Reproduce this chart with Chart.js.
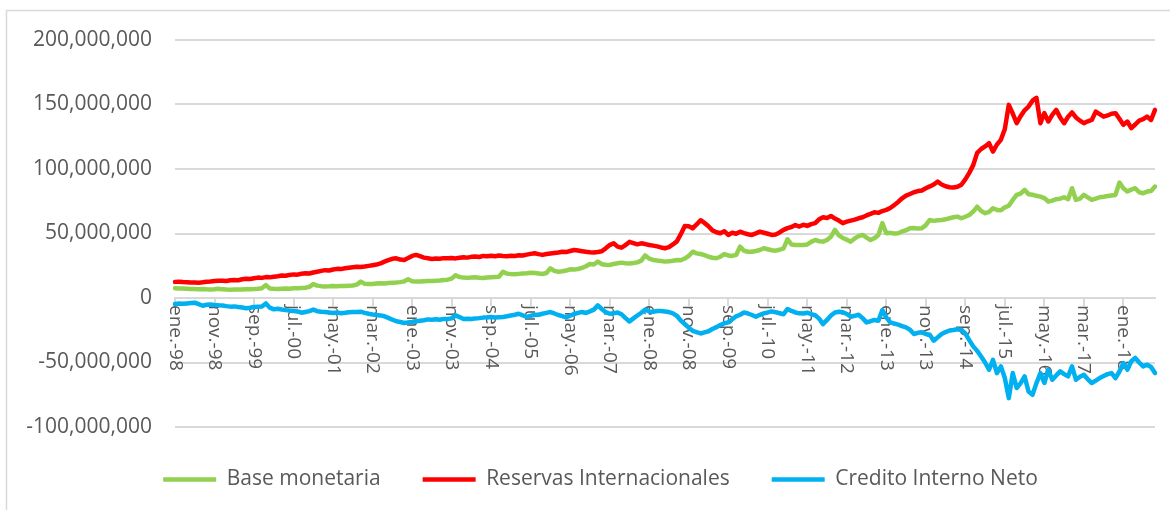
<!DOCTYPE html>
<html>
<head>
<meta charset="utf-8">
<script src="https://cdn.jsdelivr.net/npm/chart.js@4.4.1/dist/chart.umd.min.js"></script>
<style>
  body { margin: 0; background: #fff; }
  #wrap { width: 1170px; height: 510px; }
</style>
</head>
<body>
<div id="wrap"><canvas id="myChart" width="1170" height="510"></canvas></div>
<script>
'use strict';

// ===== data (millones) =====
var months = ['ene.', 'feb.', 'mar.', 'abr.', 'may.', 'jun.', 'jul.', 'ago.', 'sep.', 'oct.', 'nov.', 'dic.'];
var years = ['98', '99', '00', '01', '02', '03', '04', '05', '06', '07', '08', '09', '10', '11', '12', '13', '14', '15', '16', '17', '18'];
var lastMonth = 'sep.-18';

var tickLabels = ['ene.-98', 'nov.-98', 'sep.-99', 'jul.-00', 'may.-01', 'mar.-02', 'ene.-03', 'nov.-03', 'sep.-04',
    'jul.-05', 'may.-06', 'mar.-07', 'ene.-08', 'nov.-08', 'sep.-09', 'jul.-10', 'may.-11', 'mar.-12', 'ene.-13',
    'nov.-13', 'sep.-14', 'jul.-15', 'may.-16', 'mar.-17', 'ene.-18'];

var baseMonetaria = [
    7.6, 7.4, 7.3, 7.2, 7.0, 6.9, 6.8, 6.9, 6.7, 6.6, 6.8, 7.2,
    6.7, 6.5, 6.4, 6.5, 6.6, 6.5, 6.7, 6.8, 6.9, 7.1, 7.6, 10.0,
    7.4, 7.1, 7.0, 7.2, 7.3, 7.2, 7.5, 7.6, 7.8, 8.0, 8.6, 10.8,
    9.6, 9.2, 9.0, 9.1, 9.3, 9.2, 9.4, 9.3, 9.5, 9.7, 10.4, 12.7,
    11.0, 10.8, 10.9, 11.2, 11.4, 11.2, 11.6, 11.8, 12.0, 12.3, 12.9, 14.5,
    13.0, 12.7, 12.8, 13.0, 13.2, 13.1, 13.4, 13.6, 13.9, 14.2, 15.0, 17.6,
    16.2, 15.8, 15.6, 15.8, 16.0, 15.7, 15.5, 15.9, 16.1, 16.3, 16.5, 20.4,
    18.9, 18.6, 18.4, 18.7, 19.0, 19.2, 19.6, 19.3, 19.0, 18.6, 19.4, 23.0,
    21.0, 20.4, 20.7, 21.3, 22.2, 22.0, 22.5, 23.4, 24.6, 26.4, 26.0, 28.2,
    26.2, 25.8, 25.6, 26.4, 26.9, 27.4, 26.9, 26.7, 27.1, 27.6, 29.0, 33.0,
    30.6, 29.5, 29.0, 28.6, 28.2, 28.4, 28.9, 29.5, 29.3, 30.6, 32.6, 35.9,
    34.6, 34.1, 33.2, 32.0, 31.2, 30.8, 32.0, 34.1, 33.0, 32.6, 33.4, 39.8,
    36.6, 35.9, 35.8, 36.4, 37.2, 38.6, 37.8, 37.0, 36.7, 37.4, 38.5, 45.5,
    41.5, 41.1, 41.0, 41.1, 41.5, 43.5, 45.0, 44.0, 43.7, 45.0, 47.5, 52.8,
    48.6, 46.5, 45.2, 43.7, 46.2, 48.0, 48.9, 46.8, 45.0, 46.4, 48.9, 58.0,
    50.2, 50.5, 50.0, 50.2, 51.6, 52.5, 54.1, 54.3, 53.8, 54.1, 56.5, 60.5,
    59.8, 60.2, 60.5, 61.0, 61.8, 62.6, 63.1, 61.8, 63.0, 64.4, 67.0, 70.8,
    67.5, 65.7, 66.8, 69.6, 68.3, 68.0, 70.2, 71.5, 76.0, 79.9, 81.0, 83.8,
    80.5, 80.0, 79.2, 78.6, 77.5, 74.7, 75.5, 76.6, 77.0, 78.1, 76.6, 85.1,
    76.0, 77.0, 79.9, 78.0, 76.0, 77.0, 78.1, 78.5, 79.0, 79.5, 79.9, 89.5,
    85.0, 82.5, 84.0, 85.1, 82.0, 81.2, 82.5, 83.0, 86.4
];

var reservas = [
    12.5, 12.6, 12.4, 12.3, 12.1, 12.0, 11.9, 12.2, 12.6, 12.8, 13.1, 13.4,
    13.4, 13.2, 13.7, 14.0, 13.8, 14.5, 14.9, 14.7, 15.3, 15.8, 15.6, 16.2,
    16.0, 16.5, 16.9, 17.4, 17.2, 17.9, 18.3, 18.1, 18.8, 19.2, 19.0, 19.8,
    20.4, 21.0, 21.6, 21.3, 22.1, 22.6, 22.4, 23.0, 23.5, 23.9, 24.3, 24.0,
    24.4, 24.9, 25.4, 25.9, 26.8, 28.2, 29.3, 30.4, 30.8, 29.8, 29.5, 31.0,
    32.6, 33.4, 32.4, 31.3, 30.8, 30.3, 30.6, 30.4, 30.9, 30.8, 31.0, 30.7,
    31.2, 31.6, 31.3, 31.9, 32.2, 31.8, 32.6, 32.3, 32.7, 32.4, 33.0, 32.6,
    32.4, 32.8, 32.6, 33.2, 32.9, 33.6, 34.2, 34.7, 34.0, 33.4, 34.1, 34.5,
    34.9, 35.3, 35.9, 35.6, 36.4, 37.2, 36.8, 36.3, 35.8, 35.4, 35.2, 35.6,
    36.2, 38.5, 41.0, 42.4, 39.8, 39.0, 41.0, 43.5, 42.6, 41.6, 42.4, 41.8,
    41.1, 40.6, 40.0, 39.2, 38.6, 39.4, 41.5, 43.9, 49.5, 55.8, 55.6, 54.0,
    57.0, 60.3, 58.2, 55.6, 52.4, 51.0, 50.2, 51.8, 48.9, 50.6, 49.8, 51.4,
    50.3, 49.4, 48.9, 50.1, 51.4, 50.6, 49.8, 48.9, 49.3, 50.8, 52.8, 54.2,
    55.0, 56.6, 55.4, 56.8, 55.9, 57.3, 58.0, 61.0, 62.6, 62.0, 63.6, 61.6,
    60.0, 58.0, 59.2, 60.0, 60.8, 61.8, 62.6, 64.0, 65.2, 66.5, 66.0, 67.4,
    68.3, 69.8, 72.0, 74.5, 77.3, 79.4, 80.6, 82.0, 82.9, 83.4, 85.1, 86.5,
    88.0, 90.2, 88.0, 86.6, 85.9, 85.6, 86.2, 87.8, 92.0, 97.0, 103.0, 112.5,
    115.5, 117.5, 120.0, 113.5, 119.0, 122.6, 131.0, 149.7, 143.0, 135.5, 141.0, 145.5,
    148.4, 153.0, 155.2, 135.5, 143.3, 136.8, 142.0, 145.8, 140.0, 135.5, 140.5, 143.8,
    140.0, 137.5, 135.5, 137.0, 138.0, 144.5, 142.5, 140.6, 141.5, 142.8, 143.3, 139.0,
    134.2, 136.8, 131.7, 134.5, 137.5, 138.6, 140.6, 138.0, 145.8
];

var creditoInterno = [
    -4.6, -4.3, -4.5, -4.2, -3.9, -3.6, -4.8, -6.0, -5.2, -5.0, -5.4, -5.7,
    -5.8, -6.3, -6.7, -6.5, -7.0, -7.4, -8.0, -7.6, -7.0, -6.8, -6.6, -4.2,
    -7.5, -8.8, -8.3, -8.9, -9.4, -9.8, -10.1, -10.4, -11.4, -10.8, -10.2, -9.0,
    -10.2, -10.6, -10.9, -11.2, -11.6, -11.3, -11.8, -11.5, -11.0, -10.8, -10.9, -10.6,
    -11.5, -12.2, -12.8, -13.1, -13.5, -14.2, -15.4, -16.8, -18.0, -18.6, -19.4, -18.9,
    -18.6, -18.0, -17.6, -17.2, -16.6, -16.8, -16.5, -16.9, -16.2, -16.3, -15.8, -13.5,
    -14.8, -16.3, -16.0, -16.3, -15.8, -15.6, -15.2, -15.0, -14.7, -15.1, -14.9, -14.7,
    -14.2, -13.6, -13.0, -12.2, -13.4, -14.7, -13.8, -13.0, -13.0, -12.2, -11.5, -10.9,
    -12.0, -13.2, -14.0, -15.0, -13.6, -12.4, -11.5, -10.9, -11.6, -10.4, -9.0, -5.7,
    -8.5, -11.0, -12.2, -11.8, -11.3, -12.6, -15.6, -18.2, -15.8, -13.6, -11.4, -9.0,
    -10.4, -10.6, -10.1, -10.0, -10.4, -10.9, -11.9, -13.8, -17.5, -20.2, -23.0, -25.4,
    -26.5, -27.5, -26.6, -25.8, -24.0, -22.6, -21.0, -19.6, -18.9, -16.5, -14.2, -13.0,
    -11.2, -12.0, -13.2, -14.5, -13.0, -11.9, -11.2, -10.4, -11.0, -11.8, -12.6, -8.5,
    -10.0, -11.2, -11.9, -12.0, -11.4, -12.6, -13.4, -16.0, -20.2, -17.0, -13.6, -11.2,
    -10.6, -11.0, -12.4, -14.5, -13.8, -13.0, -15.6, -18.9, -18.0, -17.0, -17.6, -9.3,
    -15.0, -18.9, -19.8, -20.6, -21.8, -22.8, -24.6, -27.9, -27.0, -26.5, -27.9, -28.5,
    -33.1, -30.5, -27.9, -26.4, -25.2, -24.8, -24.2, -24.8, -27.5, -32.6, -37.5, -41.0,
    -45.3, -50.0, -55.6, -47.9, -58.2, -53.0, -62.0, -77.6, -58.2, -69.8, -66.0, -60.8,
    -72.5, -75.0, -66.0, -58.2, -65.9, -55.6, -63.4, -60.0, -56.9, -59.0, -60.8, -53.0,
    -63.4, -61.0, -59.5, -63.0, -65.9, -64.0, -62.1, -60.5, -59.0, -58.2, -62.1, -57.0,
    -50.4, -55.6, -49.0, -46.5, -50.0, -53.0, -51.7, -53.5, -58.2
];

// categorias mensuales ene.-98 ... sep.-18
var categories = [];
for (var a = 0; a < years.length; a++) {
    for (var m = 0; m < months.length; m++) {
        var lab = months[m] + '-' + years[a];
        categories.push(lab);
        if (lab === lastMonth) break;
    }
}

var gridGrey = '#d9d9d9';
var textGrey = '#595959';
var fontFam = '"Open Sans", "Noto Sans", sans-serif';

// etiquetas del eje x giradas 90 grados (se leen hacia abajo)
var xLabelsPlugin = {
    id: 'xLabels',
    beforeDatasetsDraw: function (chart) {
        var xs = chart.scales.x;
        var ys = chart.scales.y;
        var ctx = chart.ctx;
        var y0 = ys.getPixelForValue(0);
        ctx.save();
        ctx.font = '19px ' + fontFam;
        ctx.fillStyle = textGrey;
        ctx.textAlign = 'left';
        ctx.textBaseline = 'middle';
        tickLabels.forEach(function (t) {
            var px = xs.getPixelForValue(categories.indexOf(t));
            ctx.save();
            ctx.translate(px, y0 + 7);
            ctx.rotate(Math.PI / 2);
            ctx.fillText(t, 0, 0);
            ctx.restore();
        });
        ctx.restore();
    }
};

// borde del area del grafico
var borderPlugin = {
    id: 'outerBorder',
    afterDraw: function (chart) {
        var ctx = chart.ctx;
        ctx.save();
        ctx.strokeStyle = gridGrey;
        ctx.lineWidth = 1.5;
        ctx.strokeRect(6.5, 10.5, 1170, 520);
        ctx.restore();
    }
};

// la leyenda va un poco a la derecha, como en el original
var legendShift = {
    id: 'legendShift',
    afterLayout: function (chart) {
        chart.legend.left += 23;
        chart.legend.right += 23;
    }
};

function series(label, data, color) {
    return {
        label: label,
        data: data,
        borderColor: color,
        backgroundColor: color,
        borderWidth: 4.5,
        borderCapStyle: 'round',
        borderJoinStyle: 'round',
        pointRadius: 0,
        tension: 0,
        fill: false
    };
}

var ctx = document.getElementById('myChart').getContext('2d');

var chart = new Chart(ctx, {
    type: 'line',
    data: {
        labels: categories,
        datasets: [
            series('Base monetaria', baseMonetaria, '#92D050'),
            series('Reservas Internacionales', reservas, '#FF0000'),
            series('Credito Interno Neto', creditoInterno, '#00B0F0')
        ]
    },
    options: {
        responsive: false,
        animation: false,
        devicePixelRatio: 1,
        layout: {
            padding: { top: 40, right: 15, left: 0, bottom: 10 }
        },
        scales: {
            x: {
                type: 'category',
                position: { y: 0 },
                offset: false,
                border: { display: true, color: gridGrey, width: 2 },
                grid: {
                    drawOnChartArea: false,
                    drawTicks: true,
                    tickLength: 7,
                    lineWidth: 2,
                    color: function (c) {
                        return c.index % 10 === 0 ? gridGrey : 'rgba(0,0,0,0)';
                    }
                },
                ticks: { display: false, autoSkip: false }
            },
            y: {
                min: -100,
                max: 200,
                afterFit: function (s) { s.width = 175; },
                border: { display: false },
                grid: { color: gridGrey, lineWidth: 2, drawTicks: false },
                ticks: {
                    stepSize: 50,
                    padding: 23,
                    color: textGrey,
                    font: { size: 21, family: fontFam },
                    callback: function (v) { return (v * 1000000).toLocaleString('en-US'); }
                }
            }
        },
        plugins: {
            legend: {
                position: 'bottom',
                labels: {
                    usePointStyle: true,
                    pointStyle: 'line',
                    pointStyleWidth: 53,
                    padding: 42,
                    color: textGrey,
                    font: { size: 21, family: fontFam }
                }
            },
            tooltip: { enabled: false }
        }
    },
    plugins: [xLabelsPlugin, borderPlugin, legendShift]
});
</script>
</body>
</html>
